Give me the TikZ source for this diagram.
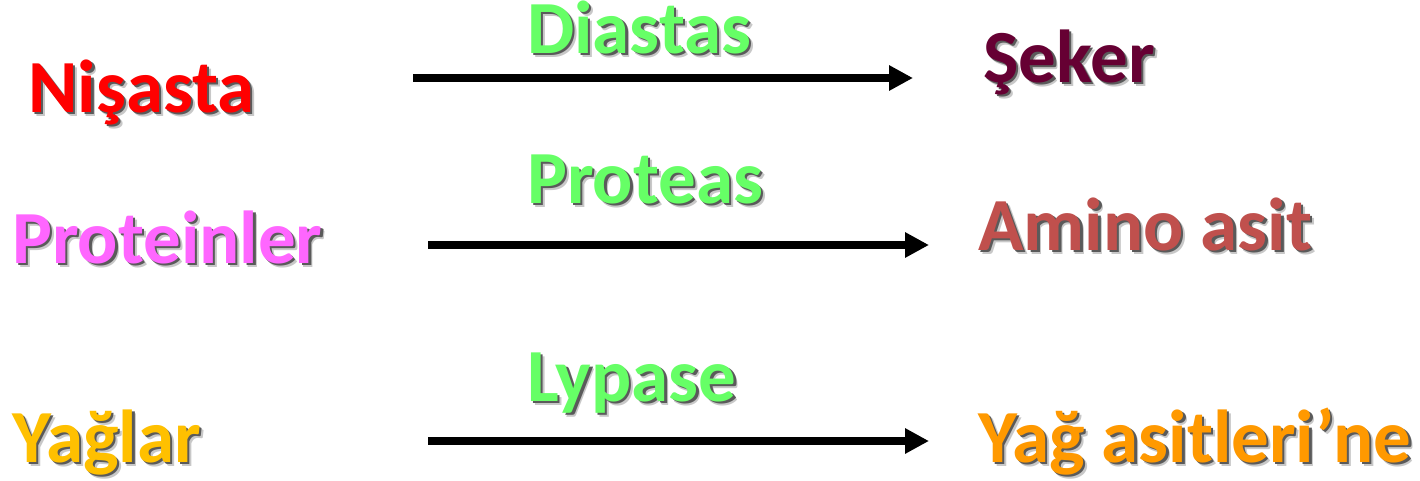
\documentclass[tikz,border=0pt]{standalone}
\usepackage{fontspec}
\setmainfont{Carlito}
\usetikzlibrary{arrows.meta}
\definecolor{cNisasta}{HTML}{FF0000}
\definecolor{cEnzyme}{HTML}{66FF66}
\definecolor{cSeker}{HTML}{660033}
\definecolor{cProtein}{HTML}{FF66FF}
\definecolor{cAmino}{HTML}{C0504D}
\definecolor{cYaglar}{HTML}{FFC000}
\definecolor{cYagAsit}{HTML}{FF9900}
\definecolor{shadeOuter}{HTML}{C8C8C8}
\definecolor{shadeInner}{HTML}{5A5A5A}
\tikzset{
  word/.style={anchor=base west, inner sep=0pt, font=\fontsize{75}{86}\selectfont\bfseries},
  reaction/.style={line width=8pt, -{Triangle[length=24pt,width=24pt]}},
}
% coloured word over a soft two-layer drop shadow
\newcommand{\shadowed}[2]{%
  \rlap{\kern4pt\raisebox{-4pt}{\textcolor{shadeOuter}{#2}}}%
  \rlap{\kern2.5pt\raisebox{-2.5pt}{\textcolor{shadeInner}{#2}}}%
  \textcolor{#1}{#2}}
\begin{document}
\begin{tikzpicture}[x=1pt,y=1pt]
\useasboundingbox[fill=white] (0,0) rectangle (1420,-480);

% substrates
\node[word] (nisasta) at (28,-112) {\shadowed{cNisasta}{Nişasta}};
\node[word] (protein) at (12,-263) {\shadowed{cProtein}{Proteinler}};
\node[word] (yaglar)  at (12,-462) {\shadowed{cYaglar}{Yağlar}};

% enzymes
\node[word] (diastas) at (527,-53)  {\shadowed{cEnzyme}{Diastas}};
\node[word] (proteas) at (527,-203) {\shadowed{cEnzyme}{Proteas}};
\node[word] (lypase)  at (527,-401) {\shadowed{cEnzyme}{Lypase}};

% products
\node[word] (seker)   at (983,-82)  {\shadowed{cSeker}{Şeker}};
\node[word] (amino)   at (978,-250) {\shadowed{cAmino}{Amino asit}};
\node[word] (yagasit) at (978,-462) {\shadowed{cYagAsit}{Yağ asitleri’ne}};

% reaction arrows
\coordinate (r1s) at (413,-78);  \coordinate (r1e) at (913,-78);
\coordinate (r2s) at (428,-245); \coordinate (r2e) at (929,-245);
\coordinate (r3s) at (428,-441); \coordinate (r3e) at (929,-441);
\draw[reaction] (r1s) -- (r1e);
\draw[reaction] (r2s) -- (r2e);
\draw[reaction] (r3s) -- (r3e);
\end{tikzpicture}
\end{document}
